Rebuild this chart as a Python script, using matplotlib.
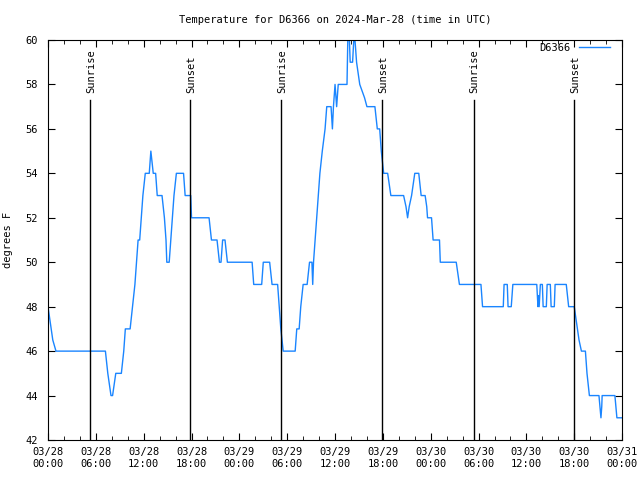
import matplotlib
matplotlib.use('Agg')
import matplotlib.pyplot as plt
from matplotlib.ticker import MultipleLocator

# hours since 2024-03-28 00:00 UTC and temperature in F
hours = [0.0, 0.2, 0.4, 0.6, 1.0, 7.2, 7.5, 7.9, 8.1, 8.5, 9.2, 9.5, 9.7, 10.3,
         10.6, 10.9, 11.1, 11.3, 11.5, 11.7, 11.9, 12.2, 12.7, 12.9, 13.2, 13.5,
         13.7, 14.3, 14.6, 14.8, 14.9, 15.2, 15.4, 15.6, 15.8, 16.1, 17.0, 17.2,
         17.9, 18.0, 20.2, 20.5, 21.2, 21.5, 21.7, 21.9, 22.2, 22.5, 25.6, 25.8,
         26.8, 27.0, 27.8, 28.1, 28.8, 29.0, 29.2, 29.5, 31.0, 31.2, 31.5, 31.7,
         32.0, 32.5, 32.8, 33.1, 33.2, 33.3, 33.5, 33.7, 33.9, 34.1, 34.4, 34.75,
         34.96, 35.5, 35.67, 35.8, 36.0, 36.2, 36.4, 37.5, 37.6, 37.8, 37.9, 38.2,
         38.35, 38.5, 38.7, 38.9, 39.1, 39.4, 39.7, 40.0, 41.0, 41.3, 41.6, 41.8,
         42.1, 42.6, 42.8, 43.0, 44.6, 44.9, 45.1, 45.3, 45.6, 45.8, 46.0, 46.5,
         46.8, 47.3, 47.5, 47.6, 48.1, 48.3, 49.1, 49.2, 51.2, 51.4, 51.6, 54.3,
         54.5, 57.1, 57.2, 57.6, 57.7, 58.1, 58.3, 61.3, 61.45, 61.5, 61.6, 61.75,
         62.0, 62.1, 62.5, 62.6, 63.0, 63.1, 63.5, 63.6, 65.0, 65.3, 66.0, 66.2,
         66.4, 66.6, 66.9, 67.4, 67.6, 67.9, 69.1, 69.35, 69.45, 69.5, 71.1, 71.35,
         72.0]
temps = [48, 47.5, 47, 46.5, 46, 46, 45, 44, 44, 45, 45, 46, 47, 47,
         48, 49, 50, 51, 51, 52, 53, 54, 54, 55, 54, 54,
         53, 53, 52, 51, 50, 50, 51, 52, 53, 54, 54, 53,
         53, 52, 52, 51, 51, 50, 50, 51, 51, 50, 50, 49,
         49, 50, 50, 49, 49, 48, 47, 46, 46, 47, 47, 48,
         49, 49, 50, 50, 49, 50, 51, 52, 53, 54, 55, 56,
         57, 57, 56, 57, 58, 57, 58, 58, 60, 60, 59, 59,
         60, 60, 59, 58.5, 58, 57.7, 57.4, 57, 57, 56, 56, 55,
         54, 54, 53.5, 53, 53, 52.5, 52, 52.5, 53, 53.5, 54, 54,
         53, 53, 52.5, 52, 52, 51, 51, 50, 50, 49.5, 49, 49,
         48, 48, 49, 49, 48, 48, 49, 49, 48, 48.5, 48, 49,
         49, 48, 48, 49, 49, 48, 48, 49, 49, 48, 48, 47.5,
         47, 46.5, 46, 46, 45, 44, 44, 43, 43.5, 44, 44, 43,
         43]

sunrise = [5.27, 29.27, 53.4]
sunset = [17.85, 41.9, 66.0]

tick_hours = [0, 6, 12, 18, 24, 30, 36, 42, 48, 54, 60, 66, 72]
tick_labels = ['03/28\n00:00', '03/28\n06:00', '03/28\n12:00', '03/28\n18:00',
               '03/29\n00:00', '03/29\n06:00', '03/29\n12:00', '03/29\n18:00',
               '03/30\n00:00', '03/30\n06:00', '03/30\n12:00', '03/30\n18:00',
               '03/31\n00:00']

plt.rcParams['font.family'] = 'DejaVu Sans Mono'
plt.rcParams['font.size'] = 7.5

fig = plt.figure(figsize=(6.4, 4.8), dpi=100)
ax = fig.add_axes([0.075, 0.0833, 0.897, 0.8334])

ax.plot(hours, temps, color='#1a85ff', linewidth=1, label='D6366')

for t in sunrise:
    ax.plot([t, t], [42, 57.3], color='black', linewidth=1)
    ax.text(t + 0.1, 57.6, 'Sunrise', rotation=90, ha='center', va='bottom')
for t in sunset:
    ax.plot([t, t], [42, 57.3], color='black', linewidth=1)
    ax.text(t + 0.1, 57.6, 'Sunset', rotation=90, ha='center', va='bottom')

ax.set_xlim(0, 72)
ax.set_ylim(42, 60)
ax.set_xticks(tick_hours)
ax.set_xticklabels(tick_labels)
ax.xaxis.set_minor_locator(MultipleLocator(2))
ax.set_yticks(range(42, 61, 2))
ax.tick_params(which='both', direction='in', top=True, right=True, pad=5)
ax.tick_params(axis='y', pad=7)
ax.tick_params(which='major', length=5)
ax.tick_params(which='minor', length=3)

ax.set_title('Temperature for D6366 on 2024-Mar-28 (time in UTC)', fontsize=7.5, pad=12)
ax.set_ylabel('degrees F', labelpad=9)
ax.legend(loc='upper right', bbox_to_anchor=(0.979, 0.993), frameon=False,
          markerfirst=False, handlelength=3, borderaxespad=0, borderpad=0)

fig.savefig('out.png', dpi=100)
